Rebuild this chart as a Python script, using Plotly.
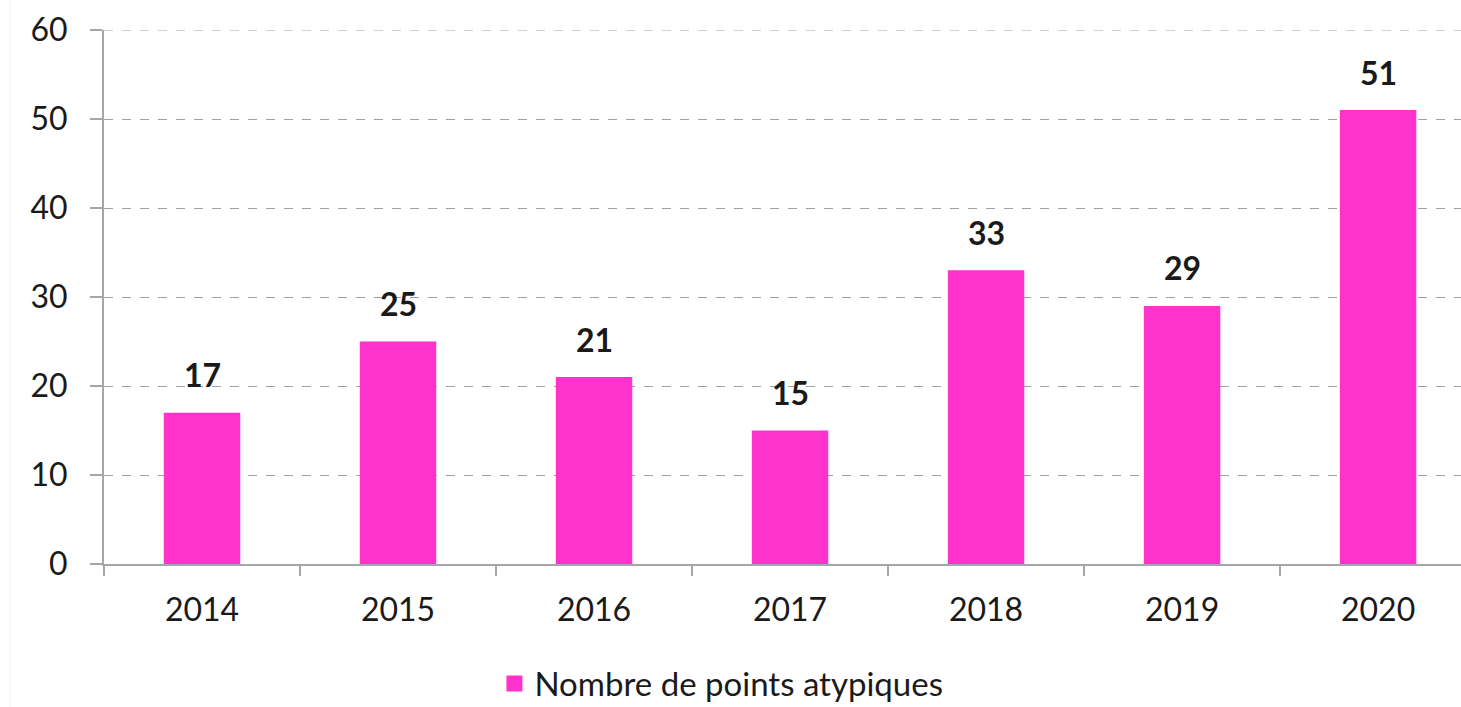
import plotly.graph_objects as go

years = ["2014", "2015", "2016", "2017", "2018", "2019", "2020"]
values = [17, 25, 21, 15, 33, 29, 51]
series_name = "Nombre de points atypiques"
y_ticks = [0, 10, 20, 30, 40, 50, 60]

BAR_COLOR = "#FF33CC"
FONT = "Lato"
TXT = "#1a1a1a"

fig = go.Figure()
fig.add_trace(go.Bar(
    x=years, y=values, name=series_name, showlegend=False,
    marker=dict(color=BAR_COLOR, line=dict(width=0)),
    width=0.39,
))
# legend entry (larger square swatch)
fig.add_trace(go.Scatter(
    x=[None], y=[None], mode="markers", name=series_name,
    marker=dict(symbol="square", size=18, color=BAR_COLOR),
    showlegend=True,
))

for i, v in enumerate(values):
    fig.add_annotation(x=i, y=v, text=f"<b>{v}</b>", showarrow=False,
                       xref="x", yref="y",
                       yanchor="middle", yshift=38,
                       font=dict(family=FONT, size=32, color=TXT))

fig.add_hline(y=y_ticks[-1], line=dict(color="#A0A0A0", width=1, dash="dash"))
fig.add_shape(type="line", xref="paper", yref="paper",
              x0=-0.0693, x1=-0.0693, y0=-0.27, y1=1.06,
              line=dict(color="#F2F2F2", width=1))

fig.update_layout(
    width=1461, height=707,
    margin=dict(l=104, r=0, t=30, b=143, autoexpand=False),
    paper_bgcolor="white", plot_bgcolor="white",
    font=dict(family=FONT, size=32, color=TXT),
    showlegend=True,
    legend=dict(orientation="h", x=0.455, xanchor="center", y=-0.224, yanchor="middle",
                font=dict(family=FONT, size=33, color=TXT),
                itemwidth=30),
)
fig.update_xaxes(
    type="category", range=[-0.5, 6.423],
    showline=True, linecolor="#A6A6A6", linewidth=2,
    ticks="outside", tickson="boundaries", ticklen=10, tickcolor="#A6A6A6", tickwidth=2,
    showgrid=False, tickfont=dict(size=32, color=TXT),
    ticklabelstandoff=17, automargin=False,
)
fig.update_yaxes(
    range=[0, 60], tickvals=y_ticks,
    showline=True, linecolor="#A6A6A6", linewidth=2,
    ticks="outside", ticklen=12, tickcolor="#A6A6A6", tickwidth=2,
    showgrid=True, gridcolor="#A0A0A0", griddash="dash", gridwidth=1,
    zeroline=False, tickfont=dict(size=32, color=TXT),
    ticklabelstandoff=16, automargin=False,
)

fig.write_html("out.html")
